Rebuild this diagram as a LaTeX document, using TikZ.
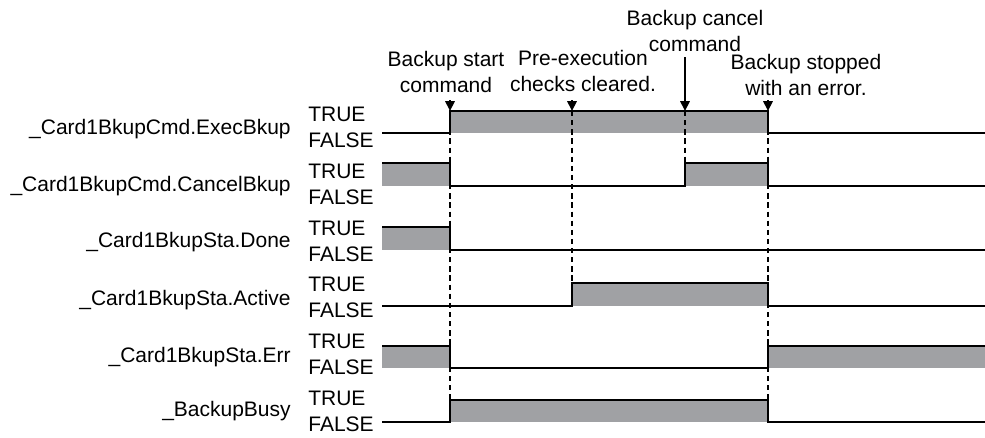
\documentclass[tikz,border=0pt]{standalone}
\usepackage{fontspec}
\setmainfont{Liberation Sans}
\usepackage{xcolor}
\usetikzlibrary{arrows.meta}

\definecolor{busygray}{RGB}{160,161,164}

\begin{document}
\begin{tikzpicture}[x=0.02cm,y=-0.02cm,
    font=\fontsize{11.95}{14.7}\selectfont,
    signame/.style={anchor=base east,inner sep=0pt},
    level/.style={anchor=base west,inner sep=0pt},
    note/.style={anchor=north,align=center,inner sep=0pt},
    wave/.style={line width=1.1pt},
    guide/.style={line width=0.8pt,dash pattern=on 3pt off 2.2pt},
    pointer/.style={line width=0.8pt},
    >={Triangle[width=5.4pt,length=5.6pt]}
  ]
    \path[use as bounding box,fill=white] (0,0) rectangle (985,437);

    % signal names and levels
    \node[signame] (exec)   at (291,134) {\_Card1BkupCmd.ExecBkup};
    \node[signame] (cancel) at (291,191) {\_Card1BkupCmd.CancelBkup};
    \node[signame] (done)   at (291,247) {\_Card1BkupSta.Done};
    \node[signame] (active) at (291,305) {\_Card1BkupSta.Active};
    \node[signame] (err)    at (291,362) {\_Card1BkupSta.Err};
    \node[signame] (busy)   at (291,416) {\_BackupBusy};

    \node[level] (exec-t)   at (308,121.5) {TRUE};
    \node[level] (exec-f)   at (308,147.5) {FALSE};
    \node[level] (cancel-t) at (308,178.3) {TRUE};
    \node[level] (cancel-f) at (308,204.3) {FALSE};
    \node[level] (done-t)   at (308,235.1) {TRUE};
    \node[level] (done-f)   at (308,261.1) {FALSE};
    \node[level] (active-t) at (308,291.9) {TRUE};
    \node[level] (active-f) at (308,317.9) {FALSE};
    \node[level] (err-t)    at (308,348.7) {TRUE};
    \node[level] (err-f)    at (308,374.7) {FALSE};
    \node[level] (busy-t)   at (308,405.5) {TRUE};
    \node[level] (busy-f)   at (308,431.5) {FALSE};

    % events
    \node[note] (startcmd) at (446,51) {Backup start\\command};
    \node[note] (checks)   at (583,50) {Pre-execution\\checks cleared.};
    \node[note] (cancelcmd) at (695,10) {Backup cancel\\command};
    \node[note] (stopped)  at (806,54) {Backup stopped\\with an error.};

    \coordinate (e1) at (450,111);
    \coordinate (e2) at (572,111);
    \coordinate (e3) at (685,111);
    \coordinate (e4) at (768,111);
    \coordinate (m1) at (450,100);
    \coordinate (m2) at (572,100);
    \coordinate (m4) at (768,100);
    \coordinate (g1) at (450,400);
    \coordinate (g2) at (572,283);
    \coordinate (g3) at (685,163);
    \coordinate (g4) at (768,400);

    % gray TRUE areas
    \fill[busygray] (450,111) rectangle (768,133);
    \fill[busygray] (382,163) rectangle (450,186);
    \fill[busygray] (685,163) rectangle (768,186);
    \fill[busygray] (382,227) rectangle (450,250);
    \fill[busygray] (572,283) rectangle (768,306);
    \fill[busygray] (382,346) rectangle (450,368);
    \fill[busygray] (768,346) rectangle (985,368);
    \fill[busygray] (450,400) rectangle (768,422);

    \draw[guide] (e1) -- (g1);
    \draw[guide] (e2) -- (g2);
    \draw[guide] (e3) -- (g3);
    \draw[guide] (e4) -- (g4);

    % waveforms
    \draw[wave] (382,133) -- (450,133) -- (450,111) -- (768,111) -- (768,133) -- (985,133);
    \draw[wave] (382,163) -- (450,163) -- (450,186) -- (685,186) -- (685,163) -- (768,163) -- (768,186) -- (985,186);
    \draw[wave] (382,227) -- (450,227) -- (450,250) -- (985,250);
    \draw[wave] (382,306) -- (572,306) -- (572,283) -- (768,283) -- (768,306) -- (985,306);
    \draw[wave] (382,346) -- (450,346) -- (450,368) -- (768,368) -- (768,346) -- (985,346);
    \draw[wave] (382,422) -- (450,422) -- (450,400) -- (768,400) -- (768,422) -- (985,422);

    \draw[pointer,->] (m1) -- (e1);
    \draw[pointer,->] (m2) -- (e2);
    \draw[pointer,->,shorten <=3pt] (cancelcmd.south -| e3) -- (e3);
    \draw[pointer,->] (m4) -- (e4);
  \end{tikzpicture}
\end{document}
